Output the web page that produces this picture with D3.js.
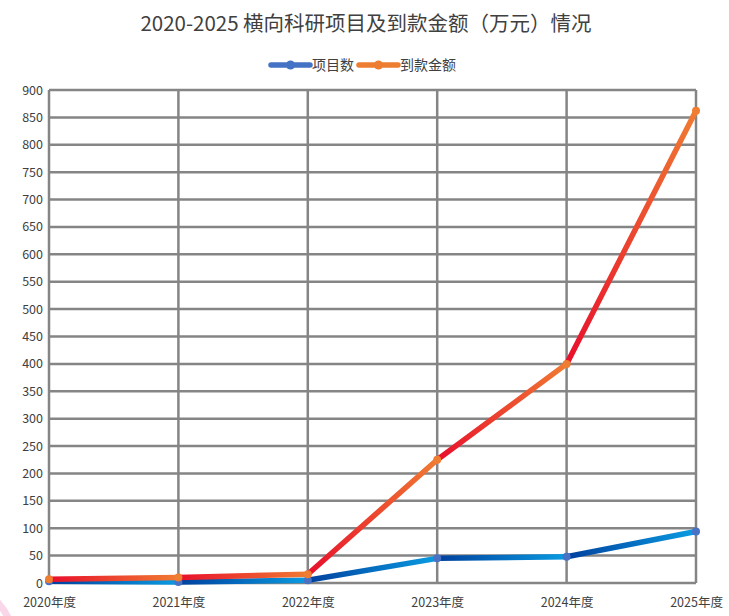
<!DOCTYPE html>
<html>
<head>
<meta charset="utf-8">
<script src="https://cdn.jsdelivr.net/npm/d3@7"></script>
<style>
  body { margin: 0; background: #fff; }
  svg text { font-family: "Noto Sans CJK SC", "Noto Sans", sans-serif; fill: #404040; }
</style>
</head>
<body>
<div id="chart"></div>
<script>
var years = ["2020年度", "2021年度", "2022年度", "2023年度", "2024年度", "2025年度"];
var projects = [3, 2, 5, 45, 48, 94];
var funds = [7, 10, 16, 225, 400, 862];
var yTicks = [0, 50, 100, 150, 200, 250, 300, 350, 400, 450, 500, 550, 600, 650, 700, 750, 800, 850, 900];

var width = 729;
var height = 616;
var margin = {top: 90, right: 33, bottom: 33, left: 49};

var svg = d3.select("#chart")
    .append("svg")
    .attr("width", width)
    .attr("height", height);

// faint pink decoration in lower-left corner
svg.append("circle")
    .attr("cx", -50)
    .attr("cy", 645)
    .attr("r", 64)
    .attr("fill", "none")
    .attr("stroke", "#f9d6e8")
    .attr("stroke-width", 7);

var x = d3.scalePoint()
    .domain(years)
    .range([margin.left, width - margin.right]);

var y = d3.scaleLinear()
    .domain([0, 900])
    .range([height - margin.bottom, margin.top]);

// title
svg.append("text")
    .attr("x", 366)
    .attr("y", 31)
    .attr("text-anchor", "middle")
    .attr("font-size", "20.5px")
    .text("2020-2025 横向科研项目及到款金额（万元）情况");

// grid
svg.append("g")
    .selectAll("line")
    .data(yTicks)
    .enter()
    .append("line")
    .attr("x1", margin.left)
    .attr("x2", width - margin.right)
    .attr("y1", function(d) { return y(d); })
    .attr("y2", function(d) { return y(d); })
    .attr("stroke", "#858585")
    .attr("stroke-width", 2.5);

svg.append("g")
    .selectAll("line")
    .data(years)
    .enter()
    .append("line")
    .attr("x1", function(d) { return x(d); })
    .attr("x2", function(d) { return x(d); })
    .attr("y1", y(0))
    .attr("y2", y(900))
    .attr("stroke", "#858585")
    .attr("stroke-width", 2.5);

// axis labels
var yAxis = svg.append("g")
    .attr("transform", "translate(" + (margin.left - 6) + ",0)")
    .call(d3.axisLeft(y).tickValues(yTicks).tickSize(0).tickPadding(0));
yAxis.select(".domain").remove();
yAxis.selectAll("text").attr("font-size", "12.5px").attr("fill", "#404040");

var xAxis = svg.append("g")
    .attr("transform", "translate(0," + (y(0) + 15) + ")")
    .call(d3.axisBottom(x).tickSize(0).tickPadding(0));
xAxis.select(".domain").remove();
xAxis.selectAll("text").attr("font-size", "12.5px").attr("fill", "#404040");

// gradient segments
var defs = svg.append("defs");

function drawSeries(values, c0, c1, marker, id) {
    var segs = d3.range(values.length - 1);
    segs.forEach(function(i) {
        var g = defs.append("linearGradient")
            .attr("id", id + i)
            .attr("gradientUnits", "userSpaceOnUse")
            .attr("x1", x(years[i])).attr("y1", y(values[i]))
            .attr("x2", x(years[i + 1])).attr("y2", y(values[i + 1]));
        g.append("stop").attr("offset", "0%").attr("stop-color", c0);
        g.append("stop").attr("offset", "100%").attr("stop-color", c1);
    });
    svg.append("g")
        .selectAll("line")
        .data(segs)
        .enter()
        .append("line")
        .attr("x1", function(i) { return x(years[i]); })
        .attr("y1", function(i) { return y(values[i]); })
        .attr("x2", function(i) { return x(years[i + 1]); })
        .attr("y2", function(i) { return y(values[i + 1]); })
        .attr("stroke", function(i) { return "url(#" + id + i + ")"; })
        .attr("stroke-width", 5.5)
        .attr("stroke-linecap", "round");
    svg.append("g")
        .selectAll("circle")
        .data(values)
        .enter()
        .append("circle")
        .attr("cx", function(d, i) { return x(years[i]); })
        .attr("cy", function(d) { return y(d); })
        .attr("r", 4)
        .attr("fill", marker);
}

drawSeries(projects, "#00409e", "#0a9ce2", "#4a72c4", "gb");
drawSeries(funds, "#e80f2c", "#f07b32", "#ef7d32", "go");

// legend
var legend = [
    {name: "项目数", color: "#4472c4", x: 271},
    {name: "到款金额", color: "#ed7d31", x: 359}
];
var lg = svg.append("g").selectAll("g")
    .data(legend)
    .enter()
    .append("g")
    .attr("transform", function(d) { return "translate(" + d.x + ",65)"; });
lg.append("line")
    .attr("x1", 0).attr("x2", 39)
    .attr("stroke", function(d) { return d.color; })
    .attr("stroke-width", 5.5)
    .attr("stroke-linecap", "round");
lg.append("circle")
    .attr("cx", 19.5)
    .attr("r", 4.5)
    .attr("fill", function(d) { return d.color; });
lg.append("text")
    .attr("x", 41)
    .attr("y", 5)
    .attr("font-size", "14px")
    .text(function(d) { return d.name; });
</script>
</body>
</html>
